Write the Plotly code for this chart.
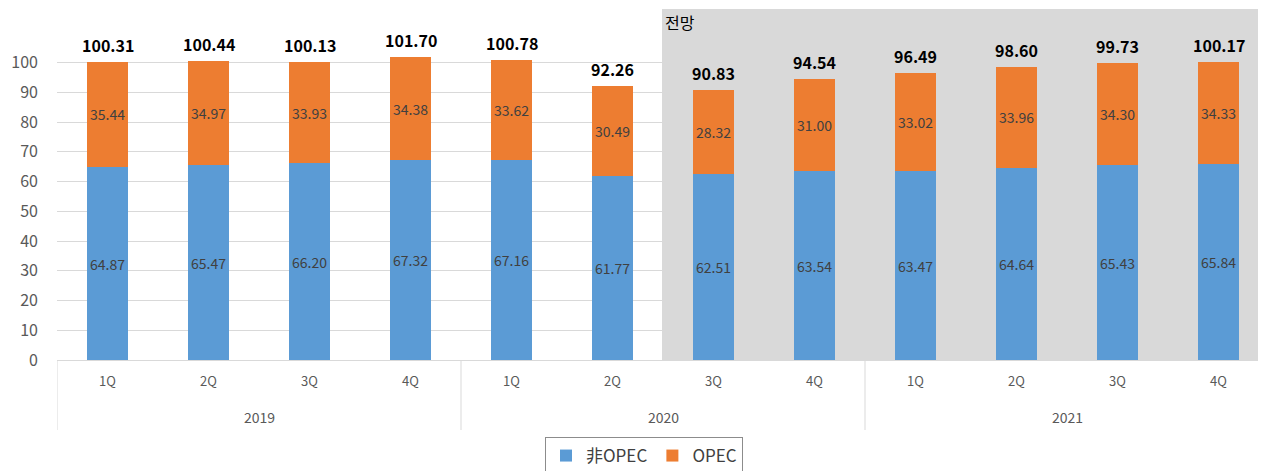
import plotly.graph_objects as go

years = ["2019", "2020", "2021"]
quarters = ["1Q", "2Q", "3Q", "4Q"] * 3
non_opec = [64.87, 65.47, 66.20, 67.32, 67.16, 61.77, 62.51, 63.54, 63.47, 64.64, 65.43, 65.84]
opec = [35.44, 34.97, 33.93, 34.38, 33.62, 30.49, 28.32, 31.00, 33.02, 33.96, 34.30, 34.33]
totals = [100.31, 100.44, 100.13, 101.70, 100.78, 92.26, 90.83, 94.54, 96.49, 98.60, 99.73, 100.17]
y_ticks = list(range(0, 101, 10))

FONT = "Noto Sans CJK KR, Open Sans, sans-serif"
W, H = 1266, 471
OFF = 8  # default body margin of the html page
L, T = 57 - OFF, 9 - OFF
plot_bottom = 360 - OFF
plot_right = 1266 - OFF
R = W - plot_right
B = H - plot_bottom
plot_w = plot_right - L
plot_h = plot_bottom - T


def px_x(page_x):
    return (page_x - OFF - L) / plot_w


def px_y(page_y):
    return (plot_bottom - (page_y - OFF)) / plot_h


xpos = list(range(len(quarters)))

fig = go.Figure()
fig.add_trace(go.Bar(
    x=xpos, y=non_opec, name="非OPEC",
    marker=dict(color="#5B9BD5", line=dict(width=0)),
))
fig.add_trace(go.Bar(
    x=xpos, y=opec, name="OPEC",
    marker=dict(color="#ED7D31", line=dict(width=0)),
))

lab_font = dict(size=14, color="#404040", family=FONT)
for i in xpos:
    fig.add_annotation(x=i, y=non_opec[i] / 2, text=f"{non_opec[i]:.2f}",
                       showarrow=False, font=lab_font)
    fig.add_annotation(x=i, y=non_opec[i] + opec[i] / 2, text=f"{opec[i]:.2f}",
                       showarrow=False, font=lab_font)
    fig.add_annotation(x=i, y=totals[i], text=f"<b>{totals[i]:.2f}</b>",
                       showarrow=False, yshift=17,
                       font=dict(size=16, color="#000000", family=FONT))

# forecast shaded region
fig.add_shape(
    type="rect", xref="paper", yref="paper",
    x0=px_x(662), x1=px_x(1260), y0=0, y1=1,
    fillcolor="#D9D9D9", line=dict(width=0), layer="below",
)
fig.add_annotation(
    xref="paper", yref="paper", x=px_x(663), y=px_y(8), xanchor="left", yanchor="top",
    text="전망", showarrow=False, font=dict(size=16, color="#000000", family=FONT),
)

# year group labels and dividers
n_per = 4
for g, yr in enumerate(years):
    center = g * n_per + (n_per - 1) / 2
    fig.add_annotation(
        x=center, xref="x", y=px_y(417), yref="paper", yanchor="middle", text=yr,
        showarrow=False, font=dict(size=14, color="#595959", family=FONT),
    )
for g in range(len(years) + 1):
    xd = g * n_per - 0.5
    fig.add_shape(
        type="line", xref="x", yref="paper", x0=xd, x1=xd,
        y0=0, y1=px_y(430), line=dict(color="#D9D9D9", width=1),
    )

fig.update_layout(
    width=W, height=H, barmode="stack", bargap=0.6,
    margin=dict(l=L, r=R, t=T, b=B, autoexpand=False),
    plot_bgcolor="rgba(0,0,0,0)", paper_bgcolor="white",
    font=dict(family=FONT, color="#595959", size=13),
    showlegend=True,
    legend=dict(
        orientation="h", x=px_x(644), xanchor="center", y=px_y(437), yanchor="top",
        bordercolor="#8C8C8C", borderwidth=1, font=dict(size=17, color="#404040"),
        traceorder="normal", itemwidth=30,
    ),
)
fig.update_xaxes(
    range=[-0.5, -0.5 + plot_w / 101], tickvals=xpos, ticktext=quarters, automargin=False,
    showline=True, linecolor="#D9D9D9", linewidth=1, showgrid=False, zeroline=False,
    tickfont=dict(size=13, color="#595959"), ticks="", ticklabelstandoff=9,
)
fig.update_yaxes(
    range=[0, 118], tickvals=y_ticks, showgrid=True, gridcolor="#D9D9D9", automargin=False,
    zeroline=False, showline=False, ticks="", ticklabelstandoff=18,
    tickfont=dict(size=16, color="#595959"),
)

fig.write_html("out.html")
